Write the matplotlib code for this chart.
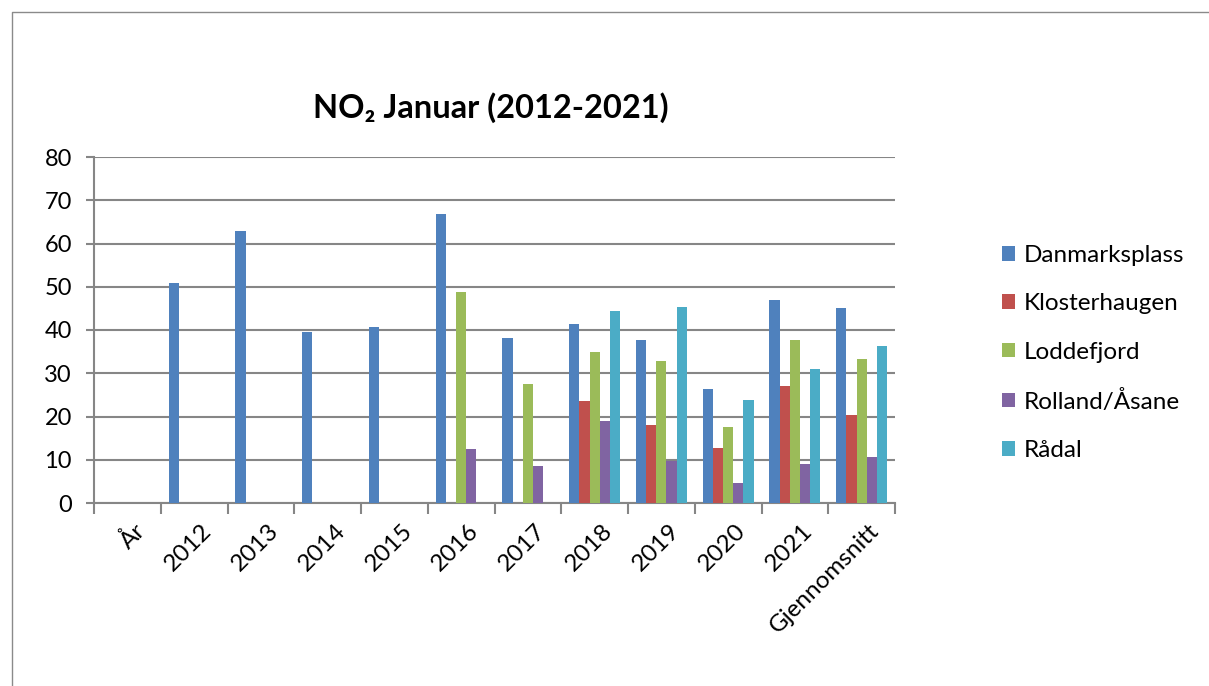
import matplotlib.pyplot as plt
import matplotlib.transforms as mtransforms
import numpy as np

plt.rcParams['font.family'] = ['Lato', 'DejaVu Sans']

# data
kategorier = ["År", "2012", "2013", "2014", "2015", "2016", "2017",
              "2018", "2019", "2020", "2021", "Gjennomsnitt"]
nan = np.nan
danmarksplass = [nan, 50.8, 63.0, 39.5, 40.7, 66.8, 38.1, 41.4, 37.6, 26.3, 47.0, 45.1]
klosterhaugen = [nan, nan, nan, nan, nan, nan, nan, 23.6, 18.1, 12.7, 27.0, 20.3]
loddefjord = [nan, nan, nan, nan, nan, 48.7, 27.4, 34.8, 32.8, 17.6, 37.8, 33.2]
rolland = [nan, nan, nan, nan, nan, 12.4, 8.6, 18.9, 9.8, 4.7, 9.0, 10.6]
raadal = [nan, nan, nan, nan, nan, nan, nan, 44.4, 45.4, 23.9, 30.9, 36.2]

serier = ["Danmarksplass", "Klosterhaugen", "Loddefjord", "Rolland/Åsane", "Rådal"]
verdier = [danmarksplass, klosterhaugen, loddefjord, rolland, raadal]
farger = ["#4F81BD", "#C0504D", "#9BBB59", "#8064A2", "#4BACC6"]

fig = plt.figure(figsize=(12.09, 6.86), dpi=100)
ax = fig.add_axes([94 / 1209, 1 - 503 / 686, (895 - 94) / 1209, (503 - 157) / 686])

x = np.arange(len(kategorier))
w = 0.153
for i, (navn, v, c) in enumerate(zip(serier, verdier, farger)):
    ax.bar(x + (i - 2) * w, v, width=w, color=c, label=navn, zorder=3)

ax.set_xlim(-0.5, len(kategorier) - 0.5)
ax.set_ylim(0, 80)
ax.set_yticks(np.arange(0, 81, 10))
ax.yaxis.grid(True, color="#868686", linewidth=1.5, zorder=0)
ax.set_axisbelow(True)

for s in ["top", "right"]:
    ax.spines[s].set_visible(False)
for s in ["left", "bottom"]:
    ax.spines[s].set_color("#868686")
    ax.spines[s].set_linewidth(1.5)

ax.tick_params(axis="y", direction="out", length=6, width=1.5, color="#868686",
               labelsize=17, pad=10)
ax.set_xticks(np.arange(-0.5, len(kategorier), 1), minor=True)
ax.tick_params(axis="x", which="minor", direction="out", length=8, width=1.5,
               color="#868686")
ax.set_xticks(x)
ax.set_xticklabels(kategorier, rotation=45, ha="right", va="top",
                   rotation_mode="anchor", fontsize=17.5)
ax.tick_params(axis="x", which="major", length=0, pad=12)
offset = mtransforms.ScaledTranslation(7 / 100, 0, fig.dpi_scale_trans)
for lab in ax.get_xticklabels():
    lab.set_transform(lab.get_transform() + offset)

fig.text(491 / 1209, 1 - 108 / 686, "NO₂ Januar (2012-2021)", ha="center",
         va="center", fontsize=23.5, fontweight="bold")

ax.legend(loc="center left", bbox_to_anchor=(1002 / 1209, 1 - 353 / 686),
          bbox_transform=fig.transFigure, frameon=False, fontsize=17.5,
          handlelength=0.55, handleheight=0.55, handletextpad=0.35,
          labelspacing=1.12, borderpad=0, borderaxespad=0)

# ytre ramme
fig.add_artist(plt.Line2D([12 / 1209, 12 / 1209, 1], [0, 1 - 12 / 686, 1 - 12 / 686],
                          transform=fig.transFigure, color="#8a8a8a", linewidth=1))

fig.savefig("out.png", dpi=100)
